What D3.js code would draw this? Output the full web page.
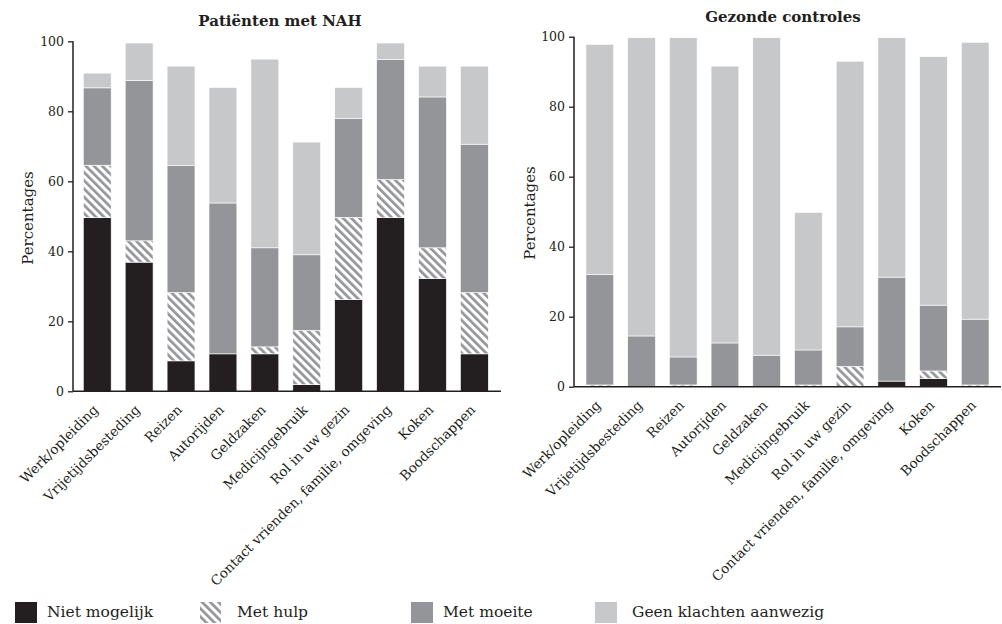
<!DOCTYPE html>
<html>
<head>
<meta charset="utf-8">
<script src="https://cdn.jsdelivr.net/npm/d3@7"></script>
<style>
  html, body { margin: 0; padding: 0; background: #fff; }
  svg { display: block; }
  text { font-family: "DejaVu Serif", "Liberation Serif", serif; fill: #231f20; }
</style>
</head>
<body>
<svg id="chart" width="1002" height="624"></svg>
<script>
const categories = ["Werk/opleiding", "Vrijetijdsbesteding", "Reizen", "Autorijden", "Geldzaken",
  "Medicijngebruik", "Rol in uw gezin", "Contact vrienden, familie, omgeving", "Koken", "Boodschappen"];
const seriesNames = ["Niet mogelijk", "Met hulp", "Met moeite", "Geen klachten aanwezig"];
const yTicks = [0, 20, 40, 60, 80, 100];

// Patiënten met NAH
const nahNiet   = [49.6, 36.9, 8.7, 10.7, 10.7, 1.9, 26.2, 49.6, 32.2, 10.7];
const nahHulp   = [15.0, 6.1, 19.5, 0, 2.0, 15.5, 23.5, 10.9, 8.8, 17.5];
const nahMoeite = [22.1, 45.8, 36.3, 43.1, 28.3, 21.6, 28.3, 34.3, 43.1, 42.4];
const nahGeen   = [4.2, 10.7, 28.4, 33.0, 53.9, 32.2, 8.8, 4.7, 8.8, 22.3];

// Gezonde controles
const ctrNiet   = [0, 0, 0, 0, 0, 0, 0, 1.6, 2.3, 0];
const ctrHulp   = [0.5, 0, 0.5, 0, 0, 0.5, 5.8, 0, 2.2, 0.5];
const ctrMoeite = [31.6, 14.5, 8.0, 12.5, 9.0, 10.0, 11.3, 29.7, 18.8, 18.8];
const ctrGeen   = [65.7, 85.2, 91.2, 79.1, 90.7, 39.3, 75.9, 68.4, 71.0, 79.1];

const ink = "#231f20";
const fills = [ink, "url(#hatch)", "#939598", "#c7c8ca"];

const svg = d3.select("#chart");
const defs = svg.append("defs");
const pat = defs.append("pattern")
  .attr("id", "hatch")
  .attr("patternUnits", "userSpaceOnUse")
  .attr("width", 5.8).attr("height", 5.8)
  .attr("patternTransform", "rotate(-45)");
pat.append("rect").attr("width", 5.8).attr("height", 5.8).attr("fill", "#fff");
pat.append("rect").attr("width", 2.7).attr("height", 5.8).attr("fill", "#939598");

function makeTable(niet, hulp, moeite, geen) {
  return categories.map((c, i) => ({
    cat: c,
    "Niet mogelijk": niet[i],
    "Met hulp": hulp[i],
    "Met moeite": moeite[i],
    "Geen klachten aanwezig": geen[i]
  }));
}

function drawPanel(cfg) {
  const table = makeTable(...cfg.data);
  const stacked = d3.stack().keys(seriesNames)(table);

  const x = d3.scaleBand().domain(categories)
    .range([cfg.x0, cfg.x1]).paddingInner(0.335).paddingOuter(0.167);
  const y = d3.scaleLinear().domain([0, 100]).range([cfg.yBottom, cfg.yTop]);

  const g = svg.append("g");

  // bars
  stacked.forEach((layer, si) => {
    g.append("g").selectAll("rect").data(layer).join("rect")
      .attr("x", d => x(d.data.cat))
      .attr("width", x.bandwidth())
      .attr("y", d => y(d[1]))
      .attr("height", d => Math.max(0, y(d[0]) - y(d[1])))
      .attr("fill", fills[si])
      .attr("stroke", "#fff")
      .attr("stroke-width", 0.6);
  });

  // y axis
  const yAxis = d3.axisLeft(y).tickValues(yTicks).tickSize(5).tickPadding(4).tickSizeOuter(0);
  const ya = g.append("g").attr("transform", `translate(${cfg.axisX},0)`).call(yAxis);
  ya.select(".domain").attr("stroke", ink).attr("stroke-width", 1.5)
    .attr("d", `M0,${cfg.yTop}V${cfg.yBottom}`);
  ya.selectAll(".tick line").attr("stroke", ink).attr("stroke-width", 1.3);
  ya.selectAll(".tick text").style("font-size", "12.5px").attr("fill", ink)
    .style("font-family", '"DejaVu Serif", serif');

  // x axis
  const xa = g.append("g").attr("transform", `translate(0,${cfg.yBottom})`)
    .call(d3.axisBottom(x).tickSize(0).tickPadding(0));
  xa.select(".domain").attr("stroke", ink).attr("stroke-width", 1.5)
    .attr("d", `M${cfg.axisX},0H${cfg.axisEnd}`);
  xa.selectAll(".tick text")
    .style("font-size", "13.5px").attr("fill", ink)
    .style("font-family", '"DejaVu Serif", serif')
    .attr("text-anchor", "end")
    .attr("dy", "0.35em")
    .attr("transform", "translate(-1.5,16) rotate(-45)");

  // title
  g.append("text").attr("x", cfg.titleX).attr("y", cfg.titleY)
    .attr("text-anchor", "middle").style("font-size", "15px").style("font-weight", "bold")
    .text(cfg.title);

  // y label
  g.append("text")
    .attr("transform", `translate(${cfg.labelX},${cfg.labelY}) rotate(-90)`)
    .attr("text-anchor", "middle").style("font-size", "15px")
    .text("Percentages");
}

drawPanel({
  data: [nahNiet, nahHulp, nahMoeite, nahGeen],
  x0: 76.3, x1: 495.3, axisX: 73, axisEnd: 501,
  yTop: 41.3, yBottom: 391.3,
  title: "Patiënten met NAH", titleX: 280, titleY: 26, labelX: 33, labelY: 218
});

drawPanel({
  data: [ctrNiet, ctrHulp, ctrMoeite, ctrGeen],
  x0: 579, x1: 996, axisX: 574, axisEnd: 1001,
  yTop: 36.7, yBottom: 386.7,
  title: "Gezonde controles", titleX: 783, titleY: 22, labelX: 535, labelY: 213
});

// legend
const legendSwatchX = [15, 200, 411, 595];
const legendTextX = [47, 237, 443, 632];
const lg = svg.append("g");
seriesNames.forEach((name, i) => {
  lg.append("rect").attr("x", legendSwatchX[i]).attr("y", 602)
    .attr("width", i === 1 ? 21 : 22).attr("height", 21)
    .attr("fill", fills[i]);
  lg.append("text").attr("x", legendTextX[i]).attr("y", 617)
    .style("font-size", "15.5px").text(name);
});
</script>
</body>
</html>
